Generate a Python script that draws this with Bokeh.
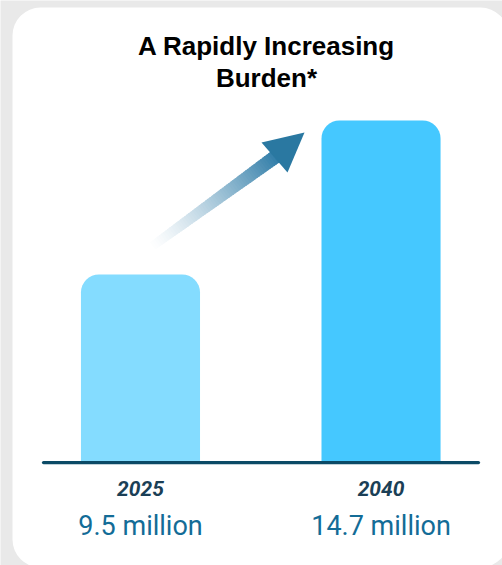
from bokeh.plotting import figure
from bokeh.models import Range1d, Label, ColumnDataSource
from bokeh.core.properties import value
from bokeh.embed import file_html
from bokeh.resources import INLINE

# ---- data ----
years = ["2025", "2040"]
cases_millions = [9.5, 14.7]
value_labels = ["9.5 million", "14.7 million"]
bar_colors = ["#84dcff", "#45c8ff"]
title_lines = ["A Rapidly Increasing", "Burden*"]

W, H = 502, 565
BASE = 3.15  # value axis start (bars grow from here)

X0, X1 = -0.582, 1.505
Y0, Y1 = -0.326, 18.752

p = figure(width=W, height=H, output_backend="svg", toolbar_location=None,
           x_range=Range1d(X0, X1), y_range=Range1d(Y0, Y1),
           min_border=0, min_border_left=0, min_border_right=0,
           min_border_top=0, min_border_bottom=0)
p.axis.visible = False
p.grid.visible = False
p.outline_line_color = None
p.background_fill_color = "#e9e9e9"
p.border_fill_color = "#e9e9e9"

def px_x(px):
    return X0 + px / W * (X1 - X0)

def px_y(py):
    return Y1 - py / H * (Y1 - Y0)

# card
p.quad(left=[px_x(12)], right=[px_x(508)], top=[px_y(7)], bottom=[px_y(567)],
       fill_color="white", line_color=None, border_radius=28)

# arrow (gradient shaft, colours pre-blended on white so overlaps don't show)
sx, sy = 150.0, 247.0
ex, ey = 278.0, 154.0
dx, dy = ex - sx, ey - sy
L = (dx * dx + dy * dy) ** 0.5
ux, uy = dx / L, dy / L
nx, ny = -uy, ux
N = 60
xs_list, ys_list, cols = [], [], []
c1 = (44, 122, 166)
for i in range(N):
    t0 = i / N
    t1 = min((i + 1.6) / N, 1.0)
    hw0 = 4.5 + 2.5 * t0
    hw1 = 4.5 + 2.5 * t1
    ax0, ay0 = sx + dx * t0, sy + dy * t0
    ax1, ay1 = sx + dx * t1, sy + dy * t1
    pts = [(ax0 + nx * hw0, ay0 + ny * hw0), (ax1 + nx * hw1, ay1 + ny * hw1),
           (ax1 - nx * hw1, ay1 - ny * hw1), (ax0 - nx * hw0, ay0 - ny * hw0)]
    xs_list.append([px_x(a) for a, b in pts])
    ys_list.append([px_y(b) for a, b in pts])
    tm = (i + 0.5) / N
    a = min(1.0, tm ** 1.3)
    c = tuple(int(round(255 + (c1[k] - 255) * a)) for k in range(3))
    cols.append("#%02x%02x%02x" % c)
p.patches(xs=xs_list, ys=ys_list, fill_color=cols, line_color=None)
# arrow head
head = [(304, 132), (261, 142), (287, 172)]
p.patch(x=[px_x(a) for a, b in head], y=[px_y(b) for a, b in head],
        fill_color="#2a78a1", line_color=None)

# bars
src = ColumnDataSource(dict(x=list(range(len(years))), top=cases_millions,
                            color=bar_colors, year=years, lab=value_labels,
                            base=[BASE] * len(years)))
p.vbar(x="x", top="top", bottom=BASE, width=0.495, source=src,
       fill_color="color", line_color=None, border_radius=(18, 18, 0, 0))

# baseline
p.segment(x0=[px_x(43)], x1=[px_x(478)], y0=[BASE], y1=[BASE],
          line_color="#0b4a66", line_width=3.2, line_cap="round")

# year labels
p.text(x="x", y="base", text="year", source=src, y_offset=26,
       text_font=value("Roboto"), text_font_style="bold italic",
       text_font_size="21px", text_color="#1b3f56",
       text_align="center", text_baseline="middle")
# value labels
p.text(x="x", y="base", text="lab", source=src, y_offset=63,
       text_font=value("Roboto"), text_font_size="27px", text_color="#136c97",
       text_align="center", text_baseline="middle")

# title
for i, line in enumerate(title_lines):
    p.add_layout(Label(x=266, y=H - 45 - 32 * i, x_units="screen", y_units="screen",
                       text=line, text_font="Liberation Sans", text_font_style="bold",
                       text_font_size="26px", text_color="#000000",
                       text_align="center", text_baseline="middle"))

open("out.html", "w").write(file_html(p, INLINE))
